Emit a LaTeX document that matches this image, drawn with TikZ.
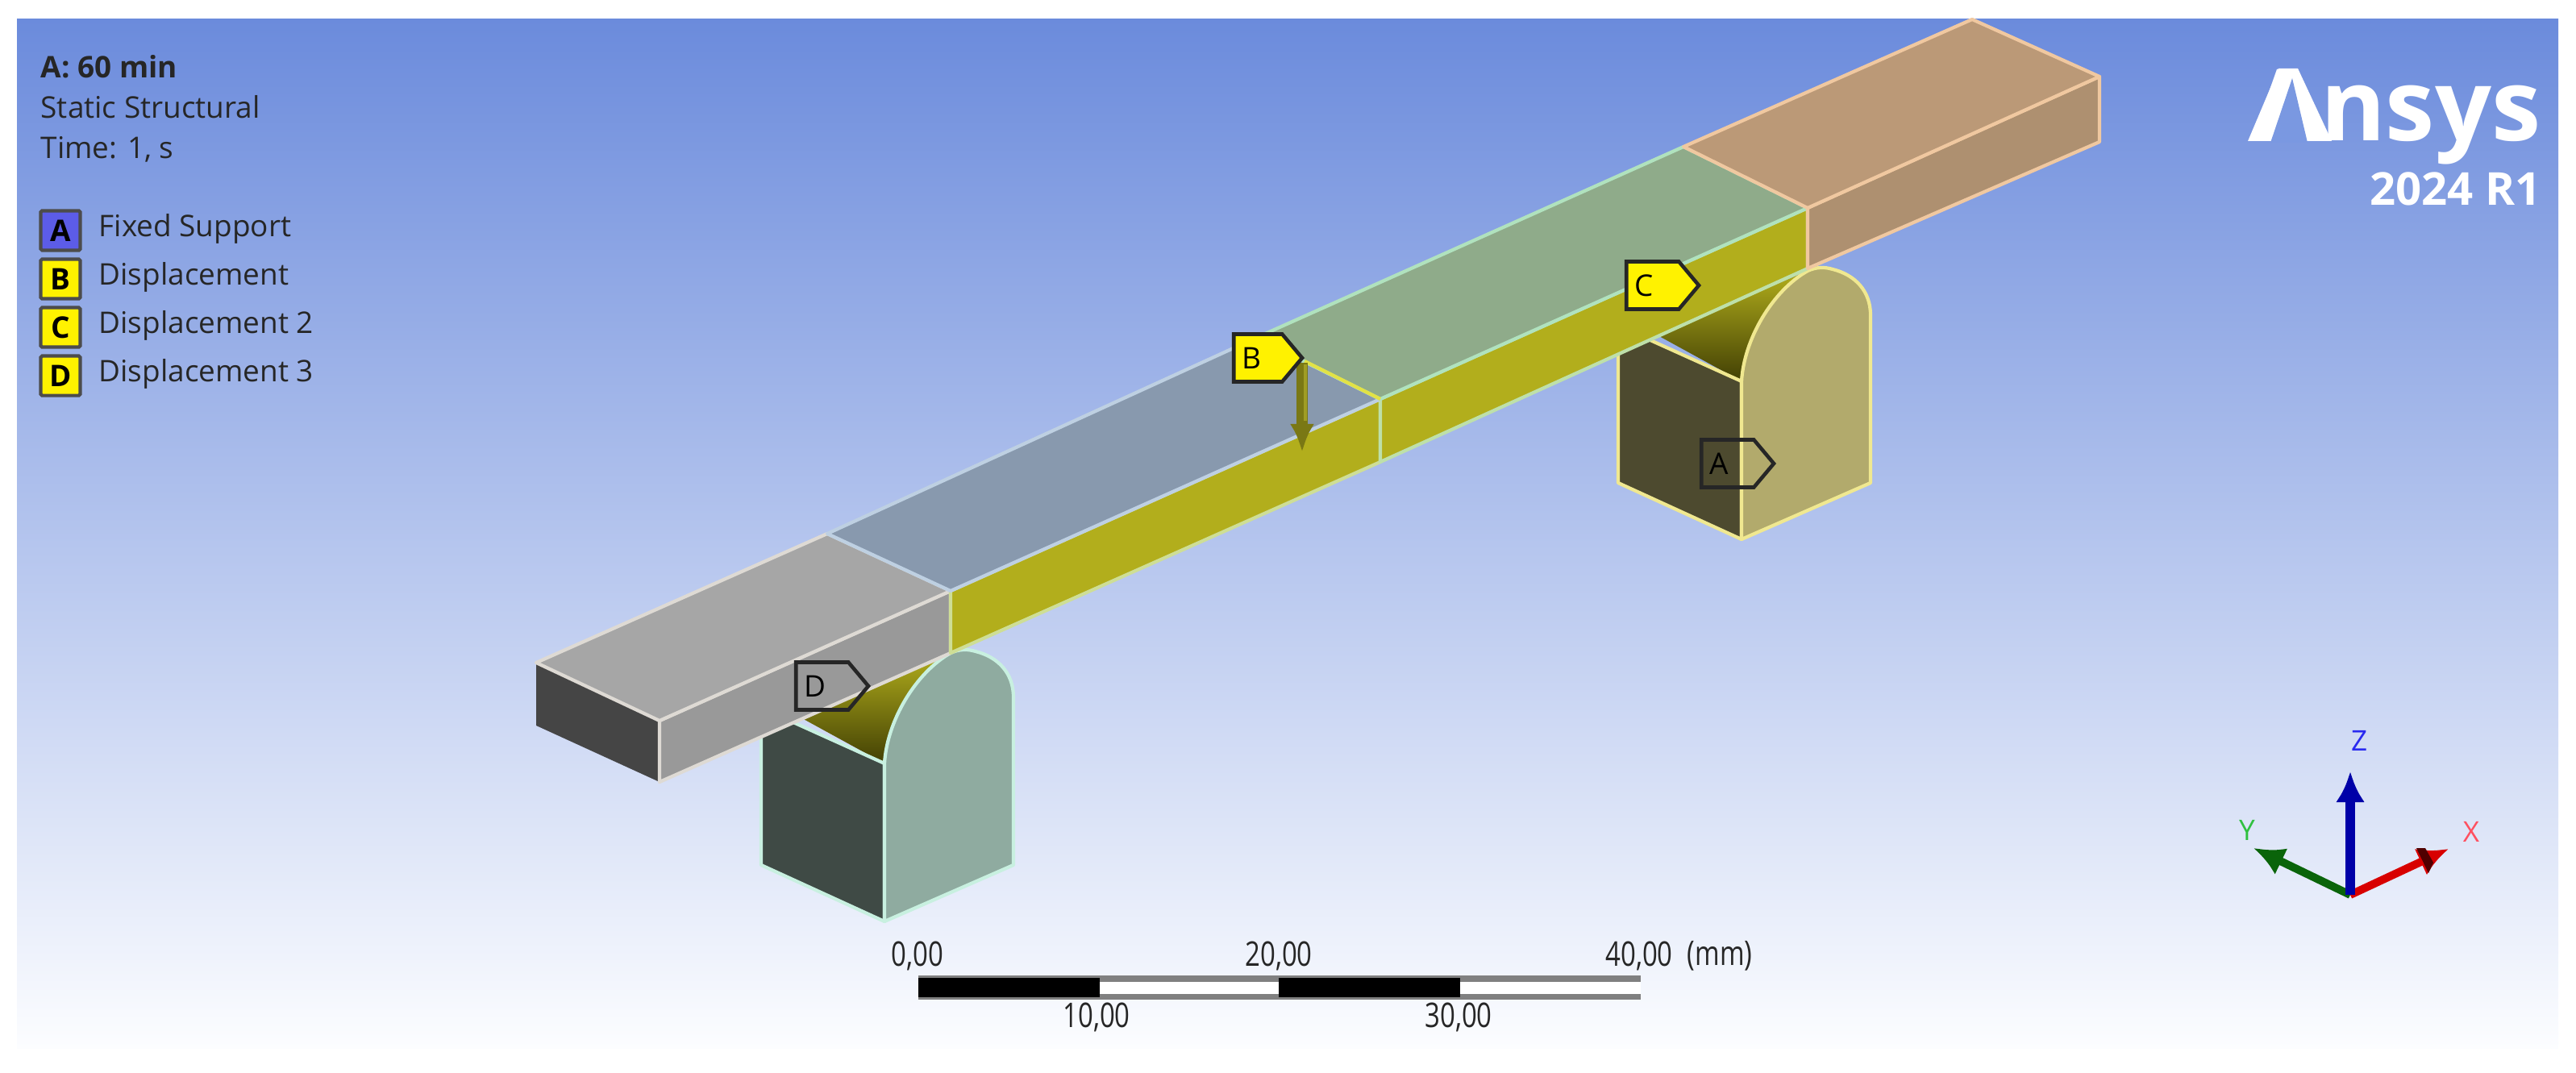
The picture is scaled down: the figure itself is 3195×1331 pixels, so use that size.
\documentclass[tikz,border=0pt]{standalone}
\usepackage{fontspec}
\setmainfont{Open Sans}
\newfontfamily\barfont{Open Sans}[FakeStretch=0.78]
\usetikzlibrary{arrows.meta,shapes.symbols}
\definecolor{bgtop}{RGB}{107,139,220}
\definecolor{bgmid}{RGB}{176,194,238}
\definecolor{bgbot}{RGB}{252,253,255}
\definecolor{logogap}{RGB}{122,152,225}
\definecolor{oliveside}{RGB}{178,174,28}
\definecolor{olivedark}{RGB}{66,64,4}
\definecolor{arrowolive}{RGB}{122,120,20}
\definecolor{arrowlight}{RGB}{160,157,36}
\definecolor{frontleft}{RGB}{63,74,69}
\definecolor{frontright}{RGB}{143,171,160}
\definecolor{frontedge}{RGB}{200,240,224}
\definecolor{rearleft}{RGB}{77,74,47}
\definecolor{rearright}{RGB}{178,170,108}
\definecolor{rearedge}{RGB}{240,232,144}
\definecolor{greyedge}{RGB}{222,218,212}
\definecolor{greyend}{RGB}{69,69,69}
\definecolor{greyside}{RGB}{153,153,153}
\definecolor{greytop}{RGB}{166,166,166}
\definecolor{blueedge}{RGB}{190,208,226}
\definecolor{bluetop}{RGB}{136,153,174}
\definecolor{greenedge}{RGB}{176,226,190}
\definecolor{greentop}{RGB}{143,171,138}
\definecolor{brownedge}{RGB}{240,200,160}
\definecolor{brownside}{RGB}{174,144,112}
\definecolor{browntop}{RGB}{187,153,119}
\definecolor{sideedgea}{RGB}{206,222,150}
\definecolor{sideedgeb}{RGB}{190,224,170}
\definecolor{splitline}{RGB}{226,226,70}
\definecolor{legendblue}{RGB}{92,92,232}
\definecolor{axisz}{RGB}{0,0,168}
\definecolor{axisy}{RGB}{10,100,10}
\definecolor{axisx}{RGB}{216,0,0}
\definecolor{axisxdark}{RGB}{80,0,0}
\definecolor{labelz}{RGB}{42,42,240}
\definecolor{labely}{RGB}{48,192,64}
\definecolor{labelx}{RGB}{255,80,96}
\tikzset{
  node distance=0.6cm,
  face/.style={draw=#1,line width=1.2pt,line join=round},
  plaintext/.style={font=\fontsize{10.5}{12}\selectfont,inner sep=0pt,text=black!85},
  legendbox/.style={draw=black!70,line width=1.2pt,rounded corners=0.5pt,minimum size=0.49cm,
    inner sep=0pt,font=\fontsize{10.5}{12}\bfseries\selectfont},
  legendtext/.style={plaintext,anchor=west,text height=0.28cm,text depth=0.08cm},
  flag/.style={signal,signal to=east,signal pointer angle=100,draw=black!85,line width=1.3pt,
    anchor=east,inner xsep=0.1cm,inner ysep=0pt,text width=0.45cm,align=left,
    text height=0.43cm,text depth=0.16cm,font=\fontsize{10.5}{12}\selectfont},
  ticktext/.style={font=\barfont\fontsize{12}{14}\selectfont,inner sep=0pt,text=black!85},
  axistext/.style={font=\fontsize{10}{12}\selectfont,inner sep=0pt},
  axis/.style={line width=3.2pt,-{Latex[length=0.38cm,width=0.36cm]}},
}
% one support, shifted from the position of the front one
\newcommand{\support}[5]{
  \begin{scope}[shift={(#1,#2)}]
    \shade[shading angle=-35,bottom color=olivedark,top color=oliveside]
      (993,890) -- (1097,947) .. controls (1100,895) and (1135,835) .. (1179,810) -- cycle;
    \filldraw[face=#5,fill=#3] (944,878) -- (1097,947) -- (1097,1143) -- (944,1073) -- cycle;
    \filldraw[face=#5,fill=#4] (1097,947) .. controls (1100,895) and (1135,835) .. (1179,810)
      .. controls (1190,805) and (1200,805) .. (1210,808)
      .. controls (1238,815) and (1257,835) .. (1257,865)
      -- (1257,1073) -- (1097,1143) -- cycle;
  \end{scope}
}

\begin{document}
\begin{tikzpicture}[x=0.01cm,y=-0.01cm]
  \useasboundingbox (0,0) rectangle (3195,1331);
  \shade[top color=bgtop,middle color=bgmid,bottom color=bgbot] (21,24) rectangle (3173,1300);

  \support{0}{0}{frontleft}{frontright}{frontedge}
  \support{1063}{-474}{rearleft}{rearright}{rearedge}

  % beam, from the grey end to the brown end
  \coordinate (b0) at (665,822);
  \coordinate (b1) at (1026,662);
  \coordinate (b2) at (1558,419);
  \coordinate (b3) at (2088,182);
  \coordinate (b4) at (2446,24);
  \coordinate (f0) at (818,894);
  \coordinate (f1) at (1179,733);
  \coordinate (f2) at (1712,495);
  \coordinate (f3) at (2242,258);
  \coordinate (f4) at (2604,95);
  \coordinate (s0) at (818,970);
  \coordinate (s1) at (1179,810);
  \coordinate (s2) at (1712,573);
  \coordinate (s3) at (2242,333);
  \coordinate (s4) at (2604,176);
  \coordinate (e0) at (665,900);

  \fill[greyend] (b0) -- (f0) -- (s0) -- (e0) -- cycle;
  \filldraw[face=greyedge,fill=greyside] (f0) -- (f1) -- (s1) -- (s0) -- cycle;
  \filldraw[face=greyedge,fill=greytop] (b0) -- (b1) -- (f1) -- (f0) -- cycle;
  \filldraw[face=sideedgea,fill=oliveside] (f1) -- (f2) -- (s2) -- (s1) -- cycle;
  \filldraw[face=sideedgeb,fill=oliveside] (f2) -- (f3) -- (s3) -- (s2) -- cycle;
  \filldraw[face=blueedge,fill=bluetop] (b1) -- (b2) -- (f2) -- (f1) -- cycle;
  \filldraw[face=greenedge,fill=greentop] (b2) -- (b3) -- (f3) -- (f2) -- cycle;
  \filldraw[face=brownedge,fill=brownside] (f3) -- (f4) -- (s4) -- (s3) -- cycle;
  \filldraw[face=brownedge,fill=browntop] (b3) -- (b4) -- (f4) -- (f3) -- cycle;
  \draw[line width=1.2pt,splitline] (1618,448) -- (f2);

  % load arrow under flag B
  \coordinate (loadtail) at (1615,450);
  \coordinate (loadtip) at (1615,561);
  \draw[arrowolive,line width=4.2pt,-{Latex[length=0.35cm,width=0.3cm]}] (loadtail) -- (loadtip);
  \draw[arrowlight,line width=1.2pt] (1619,452) -- (1619,522);

  \node[flag,fill=yellow,text width=0.4cm] (flagb) at (1618,444) {B};
  \node[flag,fill=yellow] (flagc) at (2110,354) {C};
  \node[flag] (flaga) at (2203,575) {A};
  \node[flag] (flagd) at (1080,851) {D};

  % text block
  \node[plaintext,anchor=base west,font=\fontsize{10.5}{12}\bfseries\selectfont] (title) at (50,97) {A: 60 min};
  \node[plaintext,anchor=base west] (study) at (50,147) {Static Structural};
  \node[plaintext,anchor=base west] (time) at (50,197) {Time: 1, s};

  % legend
  \node[legendbox,fill=legendblue] (lega) at (75,286) {A};
  \node[legendbox,fill=yellow] (legb) [below of=lega] {B};
  \node[legendbox,fill=yellow] (legc) [below of=legb] {C};
  \node[legendbox,fill=yellow] (legd) [below of=legc] {D};
  \node[legendtext] (texta) at (122,283) {Fixed Support};
  \node[legendtext] (textb) at (122,343) {Displacement};
  \node[legendtext] (textc) at (122,403) {Displacement 2};
  \node[legendtext] (textd) at (122,463) {Displacement 3};

  % logo, the A has no bar and a split in it
  \node[anchor=base east,inner sep=0pt,text=white,font=\fontsize{35}{40}\bfseries\selectfont] (ansys) at (3152,175) {Ansys};
  \node[anchor=base east,inner sep=0pt,text=white,font=\fontsize{16}{20}\bfseries\selectfont] (release) at (3152,255) {2024 R1};
  \fill[white] (2788,175) -- (2826,85) -- (2850,85) -- (2892,175) -- cycle;
  \fill[logogap] (2843,97) -- (2816,177) -- (2862,177) -- cycle;

  % triad
  \coordinate (origin) at (2915,1110);
  \coordinate (ztip) at (2915,957);
  \coordinate (ytip) at (2795,1052);
  \coordinate (xtip) at (3037,1053);
  \draw[axis,axisy,line width=2.8pt] (origin) -- (ytip);
  \draw[axis,axisx,line width=2.8pt] (origin) -- (xtip);
  \draw[axis,axisz] (origin) -- (ztip);
  \fill[axisxdark] (2997,1052) -- (3012,1083) -- (3018,1070) -- (3008,1052) -- cycle;
  \node[axistext,text=labelz] (zlabel) at (2926,919) {Z};
  \node[axistext,text=labely] (ylabel) at (2787,1030) {Y};
  \node[axistext,text=labelx] (xlabel) at (3065,1032) {X};

  % scale bar
  \fill[black!50] (1139,1210) rectangle (2035,1240);
  \fill[white] (1364,1218) rectangle (2035,1233);
  \fill[black] (1139,1213) rectangle (1364,1237);
  \fill[black] (1586,1213) rectangle (1811,1237);
  \node[ticktext] (tick0) at (1138,1186) {0,00};
  \node[ticktext] (tick20) at (1586,1186) {20,00};
  \node[ticktext] (tick40) at (2033,1186) {40,00};
  \node[ticktext] (unit) at (2133,1186) {(mm)};
  \node[ticktext] (tick10) at (1360,1262) {10,00};
  \node[ticktext] (tick30) at (1809,1262) {30,00};
\end{tikzpicture}
\end{document}
